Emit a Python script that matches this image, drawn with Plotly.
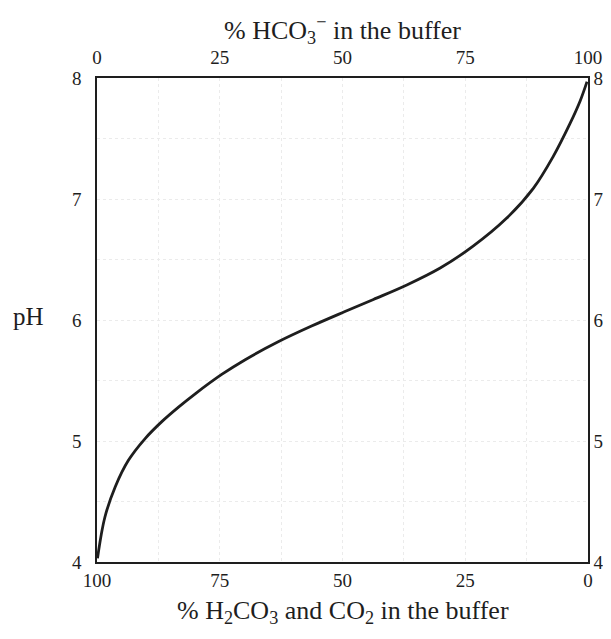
import plotly.graph_objects as go

# % HCO3- in the buffer (top axis); bottom axis is 100 - this
hco3_pct = [0.1, 1.6, 3.7, 6.4, 9.8, 13.2, 16.6, 20.0, 25.4, 30.1, 36.9, 43.7,
            50.5, 56.3, 63.1, 69.9, 76.6, 83.4, 88.9, 92.9, 96.3, 98.4, 99.8]
ph_vals = [4.03, 4.37, 4.62, 4.84, 5.02, 5.16, 5.28, 5.39, 5.55, 5.67, 5.82, 5.95,
           6.07, 6.17, 6.29, 6.43, 6.61, 6.84, 7.09, 7.35, 7.62, 7.81, 7.97]

top_tickvals = [0, 25, 50, 75, 100]
top_ticktext = ["0", "25", "50", "75", "100"]
bottom_ticktext = ["100", "75", "50", "25", "0"]
ph_ticks = [4, 5, 6, 7, 8]
ph_ticktext = ["4", "5", "6", "7", "8"]

top_title = "% HCO<sub>3</sub><sup>−</sup> in the buffer"
bottom_title = "% H<sub>2</sub>CO<sub>3</sub> and CO<sub>2</sub> in the buffer"
y_title = "pH"

FONT = "Liberation Serif"
INK = "#1e1e1e"
GRID = "#ebebeb"

fig = go.Figure()
fig.add_trace(go.Scatter(x=hco3_pct, y=ph_vals, mode="lines", line_shape="spline",
                         line=dict(color=INK, width=2.8), showlegend=False,
                         hoverinfo="skip"))
fig.add_trace(go.Scatter(x=hco3_pct, y=ph_vals, mode="lines", xaxis="x2", yaxis="y2",
                         line=dict(color=INK, width=0), opacity=0, showlegend=False,
                         hoverinfo="skip"))

axis_common = dict(showline=True, linecolor=INK, linewidth=1.6, ticks="",
                   zeroline=False, automargin=False, ticklabeloverflow="allow",
                   tickfont=dict(family=FONT, size=19, color=INK))

# page body has an 8px default margin, so the figure is sized to fit inside it
fig.update_layout(
    width=595, height=623,
    margin=dict(l=89, r=15, t=70, b=69),
    paper_bgcolor="white", plot_bgcolor="white",
    font=dict(family=FONT, color=INK),
    xaxis=dict(range=[0, 100], tickvals=top_tickvals, ticktext=bottom_ticktext,
               showgrid=True, gridcolor=GRID, griddash="dot", gridwidth=1,
               minor=dict(dtick=12.5, showgrid=True, gridcolor=GRID, griddash="dot"),
               ticklabelstandoff=0, **axis_common),
    xaxis2=dict(range=[0, 100], tickvals=top_tickvals, ticktext=top_ticktext,
                overlaying="x", side="top", anchor="y", showgrid=False,
                ticklabelstandoff=5, **axis_common),
    yaxis=dict(range=[4, 8], tickvals=ph_ticks, ticktext=ph_ticktext,
               showgrid=True, gridcolor=GRID, griddash="dot", gridwidth=1,
               minor=dict(dtick=0.5, showgrid=True, gridcolor=GRID, griddash="dot"),
               ticklabelstandoff=10, **axis_common),
    yaxis2=dict(range=[4, 8], tickvals=ph_ticks, ticktext=ph_ticktext,
                overlaying="y", side="right", anchor="x", showgrid=False,
                ticklabelstandoff=0, **axis_common),
    annotations=[
        dict(text=top_title, xref="paper", yref="paper", x=0.5, y=1.099,
             xanchor="center", yanchor="middle", showarrow=False,
             font=dict(family=FONT, size=26, color=INK)),
        dict(text=bottom_title, xref="paper", yref="paper", x=0.5, y=-0.104,
             xanchor="center", yanchor="middle", showarrow=False,
             font=dict(family=FONT, size=26, color=INK)),
        dict(text=y_title, xref="paper", yref="paper", x=-0.1405, y=0.508,
             xanchor="center", yanchor="middle", showarrow=False,
             font=dict(family=FONT, size=25, color=INK)),
    ],
)

fig.write_html("out.html")
